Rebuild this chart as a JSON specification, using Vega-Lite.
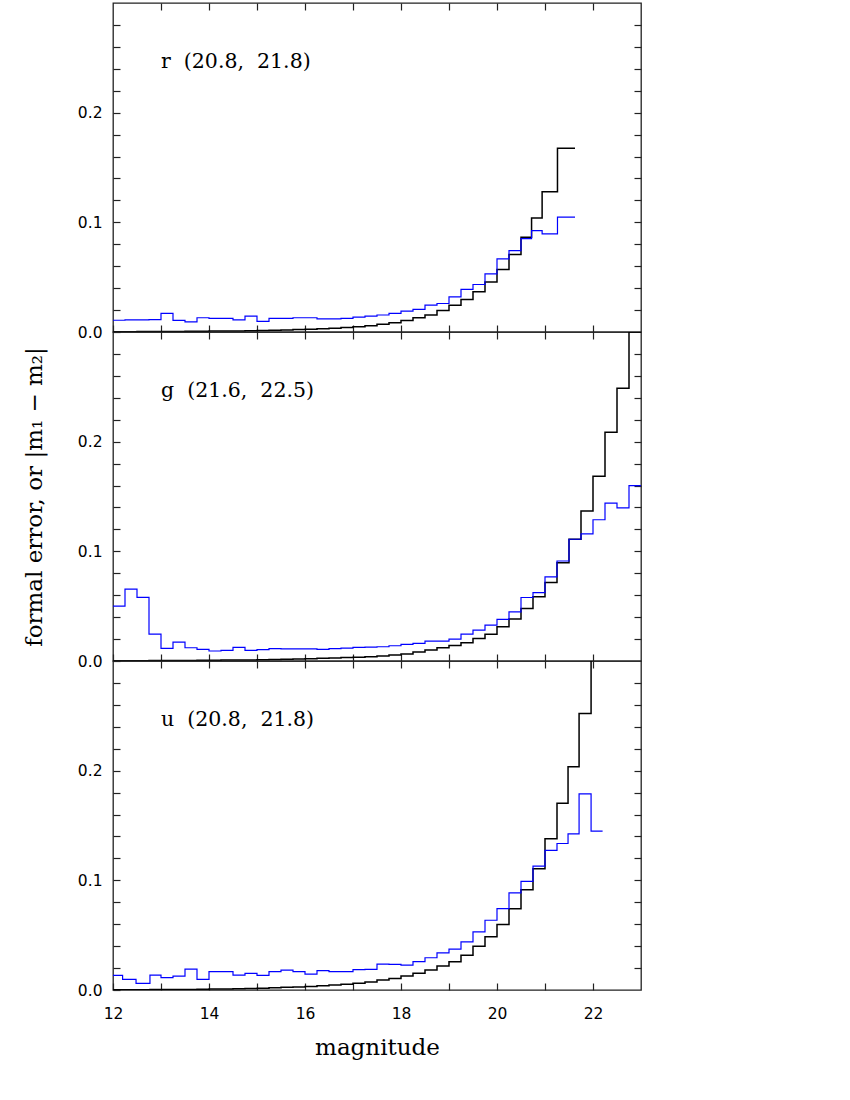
{
  "$schema": "https://vega.github.io/schema/vega-lite/v6.json",
  "padding": {"left": 22, "top": 1, "right": 10, "bottom": 10},
  "background": "white",
  "spacing": 0,
  "bounds": "flush",
  "datasets": {
    "steps": [
      {"band":"r","series":"formal","mag":12,"err":0.0003},{"band":"r","series":"formal","mag":12.25,"err":0.0003},{"band":"r","series":"formal","mag":12.5,"err":0.0004},{"band":"r","series":"formal","mag":12.75,"err":0.0004},{"band":"r","series":"formal","mag":13,"err":0.0005},{"band":"r","series":"formal","mag":13.25,"err":0.0005},{"band":"r","series":"formal","mag":13.5,"err":0.0006},{"band":"r","series":"formal","mag":13.75,"err":0.0007},{"band":"r","series":"formal","mag":14,"err":0.0008},{"band":"r","series":"formal","mag":14.25,"err":0.0009},{"band":"r","series":"formal","mag":14.5,"err":0.001},{"band":"r","series":"formal","mag":14.75,"err":0.0011},{"band":"r","series":"formal","mag":15,"err":0.0013},{"band":"r","series":"formal","mag":15.25,"err":0.0015},{"band":"r","series":"formal","mag":15.5,"err":0.0018},{"band":"r","series":"formal","mag":15.75,"err":0.0022},{"band":"r","series":"formal","mag":16,"err":0.0026},{"band":"r","series":"formal","mag":16.25,"err":0.003},{"band":"r","series":"formal","mag":16.5,"err":0.0035},{"band":"r","series":"formal","mag":16.75,"err":0.0041},{"band":"r","series":"formal","mag":17,"err":0.0048},{"band":"r","series":"formal","mag":17.25,"err":0.0056},{"band":"r","series":"formal","mag":17.5,"err":0.007},{"band":"r","series":"formal","mag":17.75,"err":0.0085},{"band":"r","series":"formal","mag":18,"err":0.0106},{"band":"r","series":"formal","mag":18.25,"err":0.013},{"band":"r","series":"formal","mag":18.5,"err":0.0155},{"band":"r","series":"formal","mag":18.75,"err":0.0197},{"band":"r","series":"formal","mag":19,"err":0.0245},{"band":"r","series":"formal","mag":19.25,"err":0.0297},{"band":"r","series":"formal","mag":19.5,"err":0.0367},{"band":"r","series":"formal","mag":19.75,"err":0.0457},{"band":"r","series":"formal","mag":20,"err":0.057},{"band":"r","series":"formal","mag":20.25,"err":0.0706},{"band":"r","series":"formal","mag":20.5,"err":0.0864},{"band":"r","series":"formal","mag":20.72,"err":0.104},{"band":"r","series":"formal","mag":20.94,"err":0.128},{"band":"r","series":"formal","mag":21.26,"err":0.1676},{"band":"r","series":"formal","mag":21.625,"err":0.1676},
      {"band":"r","series":"diff","mag":12,"err":0.0107},{"band":"r","series":"diff","mag":12.25,"err":0.011},{"band":"r","series":"diff","mag":12.5,"err":0.011},{"band":"r","series":"diff","mag":12.75,"err":0.0113},{"band":"r","series":"diff","mag":13,"err":0.017},{"band":"r","series":"diff","mag":13.25,"err":0.0106},{"band":"r","series":"diff","mag":13.5,"err":0.0092},{"band":"r","series":"diff","mag":13.75,"err":0.013},{"band":"r","series":"diff","mag":14,"err":0.0125},{"band":"r","series":"diff","mag":14.25,"err":0.0125},{"band":"r","series":"diff","mag":14.5,"err":0.011},{"band":"r","series":"diff","mag":14.75,"err":0.0145},{"band":"r","series":"diff","mag":15,"err":0.0097},{"band":"r","series":"diff","mag":15.25,"err":0.0125},{"band":"r","series":"diff","mag":15.5,"err":0.0125},{"band":"r","series":"diff","mag":15.75,"err":0.013},{"band":"r","series":"diff","mag":16,"err":0.013},{"band":"r","series":"diff","mag":16.25,"err":0.012},{"band":"r","series":"diff","mag":16.5,"err":0.012},{"band":"r","series":"diff","mag":16.75,"err":0.0125},{"band":"r","series":"diff","mag":17,"err":0.0135},{"band":"r","series":"diff","mag":17.25,"err":0.0145},{"band":"r","series":"diff","mag":17.5,"err":0.0155},{"band":"r","series":"diff","mag":17.75,"err":0.017},{"band":"r","series":"diff","mag":18,"err":0.019},{"band":"r","series":"diff","mag":18.25,"err":0.0206},{"band":"r","series":"diff","mag":18.5,"err":0.0245},{"band":"r","series":"diff","mag":18.75,"err":0.026},{"band":"r","series":"diff","mag":19,"err":0.032},{"band":"r","series":"diff","mag":19.25,"err":0.0388},{"band":"r","series":"diff","mag":19.5,"err":0.0433},{"band":"r","series":"diff","mag":19.75,"err":0.053},{"band":"r","series":"diff","mag":20,"err":0.0667},{"band":"r","series":"diff","mag":20.25,"err":0.0742},{"band":"r","series":"diff","mag":20.5,"err":0.0852},{"band":"r","series":"diff","mag":20.72,"err":0.0924},{"band":"r","series":"diff","mag":20.94,"err":0.0894},{"band":"r","series":"diff","mag":21.26,"err":0.1048},{"band":"r","series":"diff","mag":21.625,"err":0.1048},
      {"band":"g","series":"formal","mag":12,"err":0.0003},{"band":"g","series":"formal","mag":12.25,"err":0.0003},{"band":"g","series":"formal","mag":12.5,"err":0.0003},{"band":"g","series":"formal","mag":12.75,"err":0.0004},{"band":"g","series":"formal","mag":13,"err":0.0004},{"band":"g","series":"formal","mag":13.25,"err":0.0005},{"band":"g","series":"formal","mag":13.5,"err":0.0005},{"band":"g","series":"formal","mag":13.75,"err":0.0006},{"band":"g","series":"formal","mag":14,"err":0.0007},{"band":"g","series":"formal","mag":14.25,"err":0.0008},{"band":"g","series":"formal","mag":14.5,"err":0.0009},{"band":"g","series":"formal","mag":14.75,"err":0.001},{"band":"g","series":"formal","mag":15,"err":0.0011},{"band":"g","series":"formal","mag":15.25,"err":0.0013},{"band":"g","series":"formal","mag":15.5,"err":0.0015},{"band":"g","series":"formal","mag":15.75,"err":0.0018},{"band":"g","series":"formal","mag":16,"err":0.0021},{"band":"g","series":"formal","mag":16.25,"err":0.0024},{"band":"g","series":"formal","mag":16.5,"err":0.0027},{"band":"g","series":"formal","mag":16.75,"err":0.0031},{"band":"g","series":"formal","mag":17,"err":0.0035},{"band":"g","series":"formal","mag":17.25,"err":0.0039},{"band":"g","series":"formal","mag":17.5,"err":0.0045},{"band":"g","series":"formal","mag":17.75,"err":0.0055},{"band":"g","series":"formal","mag":18,"err":0.0064},{"band":"g","series":"formal","mag":18.25,"err":0.0082},{"band":"g","series":"formal","mag":18.5,"err":0.01},{"band":"g","series":"formal","mag":18.75,"err":0.0121},{"band":"g","series":"formal","mag":19,"err":0.0142},{"band":"g","series":"formal","mag":19.25,"err":0.0167},{"band":"g","series":"formal","mag":19.5,"err":0.0206},{"band":"g","series":"formal","mag":19.75,"err":0.0245},{"band":"g","series":"formal","mag":20,"err":0.0312},{"band":"g","series":"formal","mag":20.25,"err":0.0382},{"band":"g","series":"formal","mag":20.5,"err":0.0479},{"band":"g","series":"formal","mag":20.75,"err":0.0585},{"band":"g","series":"formal","mag":21,"err":0.0715},{"band":"g","series":"formal","mag":21.25,"err":0.0897},{"band":"g","series":"formal","mag":21.5,"err":0.111},{"band":"g","series":"formal","mag":21.75,"err":0.1367},{"band":"g","series":"formal","mag":22,"err":0.1685},{"band":"g","series":"formal","mag":22.25,"err":0.2085},{"band":"g","series":"formal","mag":22.5,"err":0.2488},{"band":"g","series":"formal","mag":22.75,"err":0.3},{"band":"g","series":"formal","mag":23,"err":0.3},
      {"band":"g","series":"diff","mag":12,"err":0.05},{"band":"g","series":"diff","mag":12.25,"err":0.0655},{"band":"g","series":"diff","mag":12.5,"err":0.058},{"band":"g","series":"diff","mag":12.75,"err":0.0245},{"band":"g","series":"diff","mag":13,"err":0.0115},{"band":"g","series":"diff","mag":13.25,"err":0.0173},{"band":"g","series":"diff","mag":13.5,"err":0.0121},{"band":"g","series":"diff","mag":13.75,"err":0.0106},{"band":"g","series":"diff","mag":14,"err":0.0091},{"band":"g","series":"diff","mag":14.25,"err":0.0097},{"band":"g","series":"diff","mag":14.5,"err":0.0124},{"band":"g","series":"diff","mag":14.75,"err":0.0097},{"band":"g","series":"diff","mag":15,"err":0.0103},{"band":"g","series":"diff","mag":15.25,"err":0.0112},{"band":"g","series":"diff","mag":15.5,"err":0.011},{"band":"g","series":"diff","mag":15.75,"err":0.011},{"band":"g","series":"diff","mag":16,"err":0.011},{"band":"g","series":"diff","mag":16.25,"err":0.0106},{"band":"g","series":"diff","mag":16.5,"err":0.0112},{"band":"g","series":"diff","mag":16.75,"err":0.0118},{"band":"g","series":"diff","mag":17,"err":0.0125},{"band":"g","series":"diff","mag":17.25,"err":0.0127},{"band":"g","series":"diff","mag":17.5,"err":0.013},{"band":"g","series":"diff","mag":17.75,"err":0.0139},{"band":"g","series":"diff","mag":18,"err":0.0152},{"band":"g","series":"diff","mag":18.25,"err":0.016},{"band":"g","series":"diff","mag":18.5,"err":0.0182},{"band":"g","series":"diff","mag":18.75,"err":0.0182},{"band":"g","series":"diff","mag":19,"err":0.02},{"band":"g","series":"diff","mag":19.25,"err":0.0245},{"band":"g","series":"diff","mag":19.5,"err":0.0282},{"band":"g","series":"diff","mag":19.75,"err":0.0327},{"band":"g","series":"diff","mag":20,"err":0.0379},{"band":"g","series":"diff","mag":20.25,"err":0.0448},{"band":"g","series":"diff","mag":20.5,"err":0.0579},{"band":"g","series":"diff","mag":20.75,"err":0.0624},{"band":"g","series":"diff","mag":21,"err":0.0767},{"band":"g","series":"diff","mag":21.25,"err":0.0912},{"band":"g","series":"diff","mag":21.5,"err":0.111},{"band":"g","series":"diff","mag":21.75,"err":0.116},{"band":"g","series":"diff","mag":22,"err":0.1288},{"band":"g","series":"diff","mag":22.25,"err":0.1439},{"band":"g","series":"diff","mag":22.5,"err":0.1397},{"band":"g","series":"diff","mag":22.75,"err":0.16},{"band":"g","series":"diff","mag":23,"err":0.16},
      {"band":"u","series":"formal","mag":12,"err":0.0003},{"band":"u","series":"formal","mag":12.2,"err":0.0003},{"band":"u","series":"formal","mag":12.48,"err":0.0003},{"band":"u","series":"formal","mag":12.77,"err":0.0004},{"band":"u","series":"formal","mag":13,"err":0.0004},{"band":"u","series":"formal","mag":13.25,"err":0.0005},{"band":"u","series":"formal","mag":13.5,"err":0.0005},{"band":"u","series":"formal","mag":13.75,"err":0.0006},{"band":"u","series":"formal","mag":14,"err":0.0008},{"band":"u","series":"formal","mag":14.25,"err":0.001},{"band":"u","series":"formal","mag":14.5,"err":0.0012},{"band":"u","series":"formal","mag":14.75,"err":0.0014},{"band":"u","series":"formal","mag":15,"err":0.0017},{"band":"u","series":"formal","mag":15.25,"err":0.002},{"band":"u","series":"formal","mag":15.5,"err":0.0024},{"band":"u","series":"formal","mag":15.75,"err":0.0028},{"band":"u","series":"formal","mag":16,"err":0.0033},{"band":"u","series":"formal","mag":16.25,"err":0.0038},{"band":"u","series":"formal","mag":16.5,"err":0.0045},{"band":"u","series":"formal","mag":16.75,"err":0.0053},{"band":"u","series":"formal","mag":17,"err":0.0062},{"band":"u","series":"formal","mag":17.25,"err":0.0072},{"band":"u","series":"formal","mag":17.5,"err":0.0091},{"band":"u","series":"formal","mag":17.75,"err":0.0106},{"band":"u","series":"formal","mag":18,"err":0.0127},{"band":"u","series":"formal","mag":18.25,"err":0.0152},{"band":"u","series":"formal","mag":18.5,"err":0.0182},{"band":"u","series":"formal","mag":18.75,"err":0.0218},{"band":"u","series":"formal","mag":19,"err":0.0258},{"band":"u","series":"formal","mag":19.25,"err":0.0318},{"band":"u","series":"formal","mag":19.5,"err":0.04},{"band":"u","series":"formal","mag":19.75,"err":0.0485},{"band":"u","series":"formal","mag":20,"err":0.0597},{"band":"u","series":"formal","mag":20.25,"err":0.0742},{"band":"u","series":"formal","mag":20.5,"err":0.0915},{"band":"u","series":"formal","mag":20.75,"err":0.1106},{"band":"u","series":"formal","mag":21,"err":0.1379},{"band":"u","series":"formal","mag":21.25,"err":0.1703},{"band":"u","series":"formal","mag":21.48,"err":0.2036},{"band":"u","series":"formal","mag":21.71,"err":0.2521},{"band":"u","series":"formal","mag":21.96,"err":0.36},{"band":"u","series":"formal","mag":22.2,"err":0.36},
      {"band":"u","series":"diff","mag":12,"err":0.0133},{"band":"u","series":"diff","mag":12.2,"err":0.0097},{"band":"u","series":"diff","mag":12.48,"err":0.006},{"band":"u","series":"diff","mag":12.77,"err":0.0136},{"band":"u","series":"diff","mag":13,"err":0.0112},{"band":"u","series":"diff","mag":13.25,"err":0.0127},{"band":"u","series":"diff","mag":13.5,"err":0.019},{"band":"u","series":"diff","mag":13.75,"err":0.0097},{"band":"u","series":"diff","mag":14,"err":0.0167},{"band":"u","series":"diff","mag":14.25,"err":0.0167},{"band":"u","series":"diff","mag":14.5,"err":0.0136},{"band":"u","series":"diff","mag":14.75,"err":0.0152},{"band":"u","series":"diff","mag":15,"err":0.0133},{"band":"u","series":"diff","mag":15.25,"err":0.0167},{"band":"u","series":"diff","mag":15.5,"err":0.0182},{"band":"u","series":"diff","mag":15.75,"err":0.0167},{"band":"u","series":"diff","mag":16,"err":0.0145},{"band":"u","series":"diff","mag":16.25,"err":0.0176},{"band":"u","series":"diff","mag":16.5,"err":0.0167},{"band":"u","series":"diff","mag":16.75,"err":0.0167},{"band":"u","series":"diff","mag":17,"err":0.0185},{"band":"u","series":"diff","mag":17.25,"err":0.0188},{"band":"u","series":"diff","mag":17.5,"err":0.0236},{"band":"u","series":"diff","mag":17.75,"err":0.0233},{"band":"u","series":"diff","mag":18,"err":0.0227},{"band":"u","series":"diff","mag":18.25,"err":0.0258},{"band":"u","series":"diff","mag":18.5,"err":0.0294},{"band":"u","series":"diff","mag":18.75,"err":0.0339},{"band":"u","series":"diff","mag":19,"err":0.0373},{"band":"u","series":"diff","mag":19.25,"err":0.0439},{"band":"u","series":"diff","mag":19.5,"err":0.053},{"band":"u","series":"diff","mag":19.75,"err":0.0636},{"band":"u","series":"diff","mag":20,"err":0.0742},{"band":"u","series":"diff","mag":20.25,"err":0.0885},{"band":"u","series":"diff","mag":20.5,"err":0.0991},{"band":"u","series":"diff","mag":20.75,"err":0.113},{"band":"u","series":"diff","mag":21,"err":0.1273},{"band":"u","series":"diff","mag":21.25,"err":0.1336},{"band":"u","series":"diff","mag":21.48,"err":0.1424},{"band":"u","series":"diff","mag":21.71,"err":0.1788},{"band":"u","series":"diff","mag":21.96,"err":0.1448},{"band":"u","series":"diff","mag":22.2,"err":0.1448}
    ]
  },
  "vconcat": [
    {
      "width": 528, "height": 329,
      "data": {"name": "steps"},
      "layer": [
        {
          "transform": [{"filter": "datum.band == 'r' && datum.series == 'formal'"}],
          "mark": {"type": "line", "interpolate": "step-after", "color": "#000000", "strokeWidth": 1.5, "clip": true},
          "encoding": {
            "x": {"field": "mag", "type": "quantitative", "scale": {"domain": [12, 23], "nice": false, "zero": false},
                  "axis": {"orient": "bottom", "values": [12,13,14,15,16,17,18,19,20,21,22], "labels": false, "title": null}},
            "y": {"field": "err", "type": "quantitative", "scale": {"domain": [0, 0.3], "nice": false},
                  "axis": {"orient": "left", "values": [0,0.02,0.04,0.06,0.08,0.1,0.12,0.14,0.16,0.18,0.2,0.22,0.24,0.26,0.28], "labelExpr": "(datum.value < 0.001 || abs(datum.value - 0.1) < 0.001 || abs(datum.value - 0.2) < 0.001) ? format(datum.value, '.1f') : ''", "labelPadding": 18, "labelFontSize": 15.5, "title": null}}
          }
        },
        {
          "transform": [{"filter": "datum.band == 'r' && datum.series == 'diff'"}],
          "mark": {"type": "line", "interpolate": "step-after", "color": "#0000ff", "strokeWidth": 1.2, "clip": true},
          "encoding": {
            "x": {"field": "mag", "type": "quantitative", "axis": {"orient": "top", "values": [13,14,15,16,17,18,19,20,21,22], "labels": false, "title": null}},
            "y": {"field": "err", "type": "quantitative", "axis": {"orient": "right", "values": [0.02,0.04,0.06,0.08,0.1,0.12,0.14,0.16,0.18,0.2,0.22,0.24,0.26,0.28], "labels": false, "title": null}}
          }
        },
        {
          "data": {"values": [{"label": "r\u00a0 (20.8,\u00a0 21.8)"}]},
          "mark": {"type": "text", "align": "left", "baseline": "alphabetic", "font": "DejaVu Serif", "fontSize": 20.5, "color": "#000000"},
          "encoding": {
            "x": {"datum": 13.0, "type": "quantitative", "axis": null},
            "y": {"datum": 0.241, "type": "quantitative", "axis": null},
            "text": {"field": "label"}
          }
        }
      ],
      "resolve": {"axis": {"x": "independent", "y": "independent"}}
    },
    {
      "width": 528, "height": 329,
      "data": {"name": "steps"},
      "layer": [
        {
          "transform": [{"filter": "datum.band == 'g' && datum.series == 'formal'"}],
          "mark": {"type": "line", "interpolate": "step-after", "color": "#000000", "strokeWidth": 1.5, "clip": true},
          "encoding": {
            "x": {"field": "mag", "type": "quantitative", "scale": {"domain": [12, 23], "nice": false, "zero": false},
                  "axis": {"orient": "bottom", "values": [12,13,14,15,16,17,18,19,20,21,22], "labels": false, "title": null}},
            "y": {"field": "err", "type": "quantitative", "scale": {"domain": [0, 0.3], "nice": false},
                  "axis": {"orient": "left", "values": [0,0.02,0.04,0.06,0.08,0.1,0.12,0.14,0.16,0.18,0.2,0.22,0.24,0.26,0.28], "labelExpr": "(datum.value < 0.001 || abs(datum.value - 0.1) < 0.001 || abs(datum.value - 0.2) < 0.001) ? format(datum.value, '.1f') : ''", "labelPadding": 18, "labelFontSize": 15.5, "title": "formal error, or |m\u2081 \u2212 m\u2082|", "titlePadding": 31, "titleFontSize": 23}}
          }
        },
        {
          "transform": [{"filter": "datum.band == 'g' && datum.series == 'diff'"}],
          "mark": {"type": "line", "interpolate": "step-after", "color": "#0000ff", "strokeWidth": 1.2, "clip": true},
          "encoding": {
            "x": {"field": "mag", "type": "quantitative", "axis": {"orient": "top", "values": [13,14,15,16,17,18,19,20,21,22], "labels": false, "title": null}},
            "y": {"field": "err", "type": "quantitative", "axis": {"orient": "right", "values": [0.02,0.04,0.06,0.08,0.1,0.12,0.14,0.16,0.18,0.2,0.22,0.24,0.26,0.28], "labels": false, "title": null}}
          }
        },
        {
          "data": {"values": [{"label": "g\u00a0 (21.6,\u00a0 22.5)"}]},
          "mark": {"type": "text", "align": "left", "baseline": "alphabetic", "font": "DejaVu Serif", "fontSize": 20.5, "color": "#000000"},
          "encoding": {
            "x": {"datum": 13.0, "type": "quantitative", "axis": null},
            "y": {"datum": 0.241, "type": "quantitative", "axis": null},
            "text": {"field": "label"}
          }
        }
      ],
      "resolve": {"axis": {"x": "independent", "y": "independent"}}
    },
    {
      "width": 528, "height": 329,
      "data": {"name": "steps"},
      "layer": [
        {
          "transform": [{"filter": "datum.band == 'u' && datum.series == 'formal'"}],
          "mark": {"type": "line", "interpolate": "step-after", "color": "#000000", "strokeWidth": 1.5, "clip": true},
          "encoding": {
            "x": {"field": "mag", "type": "quantitative", "scale": {"domain": [12, 23], "nice": false, "zero": false},
                  "axis": {"orient": "bottom", "values": [12,13,14,15,16,17,18,19,20,21,22], "labels": true, "labelExpr": "datum.value % 2 == 0 ? format(datum.value, 'd') : ''", "labelPadding": 23, "labelFontSize": 15.5, "title": "magnitude", "titlePadding": 15, "titleFontSize": 23}},
            "y": {"field": "err", "type": "quantitative", "scale": {"domain": [0, 0.3], "nice": false},
                  "axis": {"orient": "left", "values": [0,0.02,0.04,0.06,0.08,0.1,0.12,0.14,0.16,0.18,0.2,0.22,0.24,0.26,0.28], "labelExpr": "(datum.value < 0.001 || abs(datum.value - 0.1) < 0.001 || abs(datum.value - 0.2) < 0.001) ? format(datum.value, '.1f') : ''", "labelPadding": 18, "labelFontSize": 15.5, "title": null}}
          }
        },
        {
          "transform": [{"filter": "datum.band == 'u' && datum.series == 'diff'"}],
          "mark": {"type": "line", "interpolate": "step-after", "color": "#0000ff", "strokeWidth": 1.2, "clip": true},
          "encoding": {
            "x": {"field": "mag", "type": "quantitative", "axis": {"orient": "top", "values": [13,14,15,16,17,18,19,20,21,22], "labels": false, "title": null}},
            "y": {"field": "err", "type": "quantitative", "axis": {"orient": "right", "values": [0.02,0.04,0.06,0.08,0.1,0.12,0.14,0.16,0.18,0.2,0.22,0.24,0.26,0.28], "labels": false, "title": null}}
          }
        },
        {
          "data": {"values": [{"label": "u\u00a0 (20.8,\u00a0 21.8)"}]},
          "mark": {"type": "text", "align": "left", "baseline": "alphabetic", "font": "DejaVu Serif", "fontSize": 20.5, "color": "#000000"},
          "encoding": {
            "x": {"datum": 13.0, "type": "quantitative", "axis": null},
            "y": {"datum": 0.241, "type": "quantitative", "axis": null},
            "text": {"field": "label"}
          }
        }
      ],
      "resolve": {"axis": {"x": "independent", "y": "independent"}}
    }
  ],
  "config": {
    "view": {"stroke": "#222222", "strokeWidth": 1.3},
    "axis": {
      "grid": false, "domain": false, "ticks": true, "tickSize": -7, "tickColor": "#222222", "tickWidth": 1.2,
      "minExtent": 0,
      "labelFlush": false, "labelOverlap": false, "labelFont": "DejaVu Sans", "labelFontSize": 15.5, "labelColor": "#000000",
      "titleFont": "DejaVu Serif", "titleFontSize": 23, "titleFontWeight": "normal", "titleColor": "#000000"
    }
  }
}
